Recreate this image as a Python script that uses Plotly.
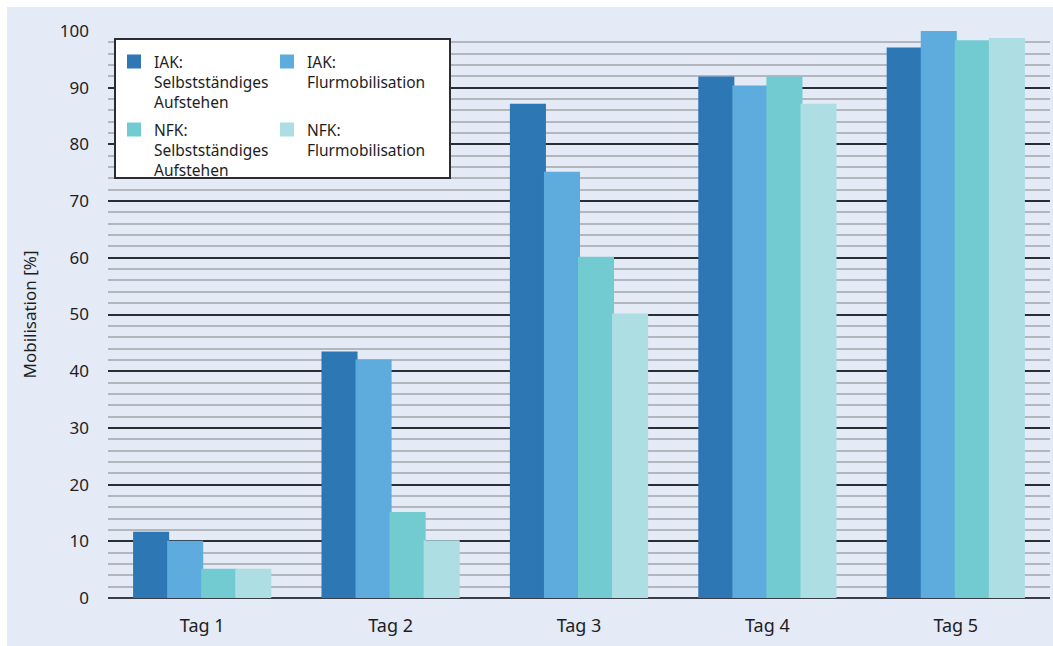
import plotly.graph_objects as go

categories = ["Tag 1", "Tag 2", "Tag 3", "Tag 4", "Tag 5"]
iak_selbst = [11.5, 43.3, 87.0, 91.8, 96.9]
iak_flur = [9.9, 41.9, 75.0, 90.2, 100.0]
nfk_selbst = [5.0, 15.0, 60.0, 91.8, 98.2]
nfk_flur = [5.0, 10.0, 50.0, 87.0, 98.6]

series_names = [
    "IAK:<br>Selbstständiges<br>Aufstehen",
    "IAK:<br>Flurmobilisation",
    "NFK:<br>Selbstständiges<br>Aufstehen",
    "NFK:<br>Flurmobilisation",
]
series_values = [iak_selbst, iak_flur, nfk_selbst, nfk_flur]
series_colors = ["#2e77b5", "#5eacdd", "#73cbd2", "#addee3"]
series_legends = ["legend", "legend2", "legend3", "legend4"]

W, H = 1053, 646
ML, MR, MT, MB = 108, 3, 31, 48
PW = W - ML - MR
PH = H - MT - MB


def px_x(px):
    return (px - ML) / PW


def px_y(py):
    return (H - MB - py) / PH


BG = "#e4eaf6"
FONT = "Noto Sans"
TXT = "#1e1e1e"

fig = go.Figure()
for name, vals, col, lg in zip(series_names, series_values, series_colors, series_legends):
    fig.add_trace(go.Bar(
        x=categories, y=vals, name=name, legend=lg, showlegend=True,
        marker=dict(color=col, line=dict(color=col, width=2)),
    ))

legend_common = dict(
    xanchor="left", yanchor="top",
    bgcolor="rgba(0,0,0,0)", borderwidth=0, valign="top",
    font=dict(size=15.5, color=TXT), visible=True,
)

fig.update_layout(
    width=W, height=H,
    margin=dict(l=ML, r=MR, t=MT, b=MB),
    paper_bgcolor=BG, plot_bgcolor=BG,
    showlegend=True,
    barmode="group", bargap=0.277, bargroupgap=0,
    font=dict(family=FONT, color=TXT),
    xaxis=dict(
        showgrid=False, showline=False, zeroline=False,
        tickfont=dict(size=18, color=TXT),
        ticks="", ticklabelstandoff=15,
    ),
    yaxis=dict(
        range=[0, 100], dtick=10, showline=False,
        showgrid=True, gridcolor="#2b2d35", gridwidth=2,
        zeroline=True, zerolinecolor="#3a3d45", zerolinewidth=2,
        minor=dict(dtick=2, showgrid=True, gridcolor="#b4b6be", gridwidth=2),
        tickfont=dict(size=17, color=TXT),
        ticks="", ticklabelstandoff=18,
        title=dict(text="Mobilisation [%]", font=dict(size=17, color=TXT), standoff=18),
    ),
    legend=dict(x=px_x(114), y=px_y(45), **legend_common),
    legend2=dict(x=px_x(267), y=px_y(45), **legend_common),
    legend3=dict(x=px_x(114), y=px_y(113), **legend_common),
    legend4=dict(x=px_x(267), y=px_y(113), **legend_common),
    shapes=[
        dict(type="rect", xref="paper", yref="paper", layer="above",
             x0=px_x(115), x1=px_x(450), y0=px_y(178), y1=px_y(39),
             fillcolor="white", line=dict(color="#2b2d35", width=2)),
        dict(type="rect", xref="paper", yref="paper", layer="below",
             x0=px_x(0), x1=px_x(7), y0=px_y(H), y1=px_y(0),
             fillcolor="white", line=dict(width=0)),
        dict(type="rect", xref="paper", yref="paper", layer="below",
             x0=px_x(0), x1=px_x(W), y0=px_y(7), y1=px_y(0),
             fillcolor="white", line=dict(width=0)),
    ],
)

fig.write_html("out.html")
